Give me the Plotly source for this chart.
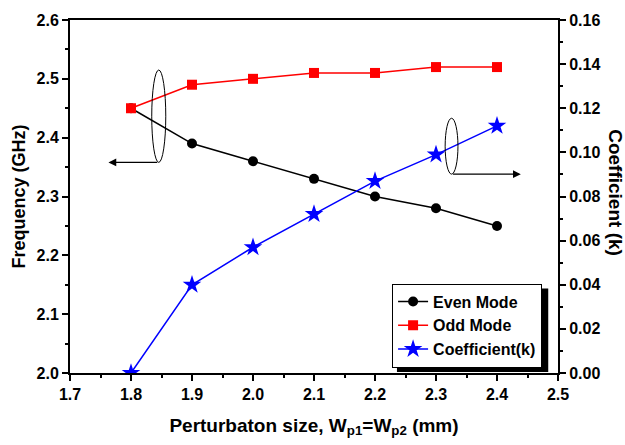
import plotly.graph_objects as go

x_size = [1.8, 1.9, 2.0, 2.1, 2.2, 2.3, 2.4]
even_mode = [2.45, 2.39, 2.36, 2.33, 2.30, 2.28, 2.25]
odd_mode = [2.45, 2.49, 2.50, 2.51, 2.51, 2.52, 2.52]
coeff_k = [0.0, 0.040, 0.057, 0.072, 0.087, 0.099, 0.112]

x_ticks = [1.7, 1.8, 1.9, 2.0, 2.1, 2.2, 2.3, 2.4, 2.5]

FONT = "Arial, Liberation Sans, sans-serif"

fig = go.Figure()
fig.add_trace(go.Scatter(x=x_size, y=even_mode, name="Even Mode", mode="lines+markers",
                         line=dict(color="black", width=1.5),
                         marker=dict(symbol="circle", size=10, color="black")))
fig.add_trace(go.Scatter(x=x_size, y=odd_mode, name="Odd Mode", mode="lines+markers",
                         line=dict(color="#ff0000", width=1.5),
                         marker=dict(symbol="square", size=10, color="#ff0000")))
fig.add_trace(go.Scatter(x=x_size, y=coeff_k, name="Coefficient(k)", mode="lines+markers",
                         yaxis="y2",
                         line=dict(color="#0000ff", width=1.5),
                         marker=dict(symbol="star", size=14, color="#0000ff")))

tickfont = dict(family=FONT, size=16, color="black", weight="bold")

fig.update_layout(
    width=625, height=445,
    margin=dict(l=70, r=67, t=14, b=72),
    paper_bgcolor="white", plot_bgcolor="white",
    showlegend=True,
    legend=dict(x=0.66, y=0.2535, xanchor="left", yanchor="top",
                bgcolor="white", bordercolor="black", borderwidth=1,
                font=dict(family=FONT, size=16, color="black", weight="bold"),
                tracegroupgap=0, itemwidth=30),
    xaxis=dict(range=[1.7, 2.5], tickvals=x_ticks, ticktext=[f"{v:.1f}" for v in x_ticks],
               showgrid=False, zeroline=False, showline=True, linecolor="black", linewidth=2,
               mirror=True, ticks="outside", ticklen=6, tickwidth=2, tickcolor="black",
               minor=dict(ticks="outside", dtick=0.05, ticklen=3, tickwidth=1.5, tickcolor="black"),
               tickfont=tickfont,
               title=dict(text="Perturbaton size, W<sub>p1</sub>=W<sub>p2</sub> (mm)",
                          font=dict(family=FONT, size=19, color="black", weight="bold"), standoff=16)),
    yaxis=dict(range=[2.0, 2.6], dtick=0.1, tickformat=".1f",
               showgrid=False, zeroline=False, showline=True, linecolor="black", linewidth=2,
               ticks="outside", ticklen=6, tickwidth=2, tickcolor="black",
               minor=dict(ticks="outside", dtick=0.05, ticklen=3, tickwidth=1.5, tickcolor="black"),
               tickfont=tickfont,
               title=dict(text="Frequency (GHz)",
                          font=dict(family=FONT, size=18, color="black", weight="bold"), standoff=6)),
    yaxis2=dict(range=[0.0, 0.16], dtick=0.02, tickformat=".2f", overlaying="y", side="right",
                showgrid=False, zeroline=False, showline=True, linecolor="black", linewidth=2,
                ticks="outside", ticklen=6, tickwidth=2, tickcolor="black",
                minor=dict(ticks="outside", dtick=0.01, ticklen=3, tickwidth=1.5, tickcolor="black"),
                tickfont=tickfont),
)

# Right axis title reading top-to-bottom
fig.add_annotation(text="Coefficient (k)", xref="paper", yref="paper", x=1.142, y=0.51,
                   textangle=90, showarrow=False,
                   font=dict(family=FONT, size=19, color="black", weight="bold"))

# Legend shadow
fig.add_shape(type="rect", xref="paper", yref="paper", x0=0.670, x1=0.98, y0=0.003, y1=0.2396,
              fillcolor="black", line=dict(width=0), layer="below")

# Left ellipse and arrow (pointing to left axis)
fig.add_shape(type="circle", xref="x", yref="y", x0=1.834, x1=1.857, y0=2.358, y1=2.515,
              line=dict(color="black", width=1))
fig.add_annotation(x=1.763, y=2.358, ax=1.8455, ay=2.358, xref="x", yref="y", axref="x", ayref="y",
                   text="", showarrow=True, arrowhead=2, arrowsize=1.3, arrowwidth=1.2, arrowcolor="black")

# Right ellipse and arrow (pointing to right axis)
fig.add_shape(type="circle", xref="x", yref="y", x0=2.315, x1=2.336, y0=2.338, y1=2.433,
              line=dict(color="black", width=1))
fig.add_annotation(x=2.439, y=2.338, ax=2.3255, ay=2.338, xref="x", yref="y", axref="x", ayref="y",
                   text="", showarrow=True, arrowhead=2, arrowsize=1.3, arrowwidth=1.2, arrowcolor="black")

fig.write_html("out.html")
